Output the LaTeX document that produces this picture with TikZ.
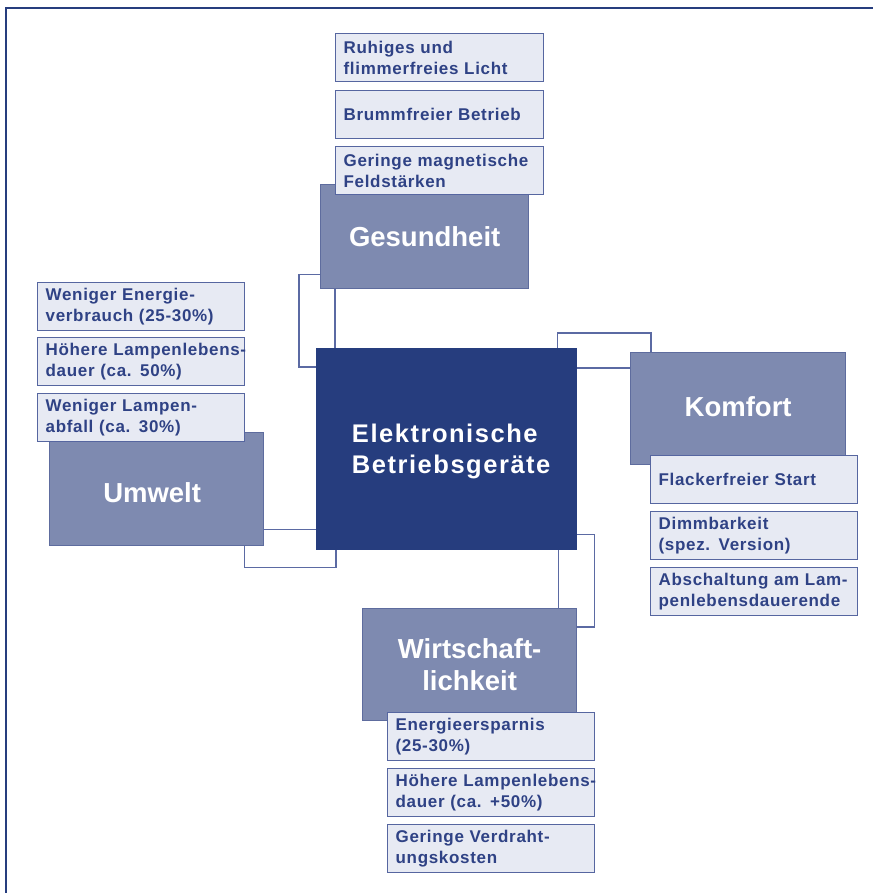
\documentclass[tikz,border=0pt]{standalone}
\usepackage{fontspec}
\setmainfont{Liberation Sans}
\newfontfamily\subfont{Liberation Sans}[LetterSpace=4]
\newfontfamily\centfont{Liberation Sans}[LetterSpace=6]
\definecolor{dark}{HTML}{263D7E}
\definecolor{mid}{HTML}{7E8AB0}
\definecolor{midline}{HTML}{5E6C9E}
\definecolor{light}{HTML}{E7EAF3}
\definecolor{lightline}{HTML}{5666A0}
\definecolor{subtext}{HTML}{2F4285}
\definecolor{conncol}{HTML}{5B6AA3}
\newcommand\Li[1]{\mbox{#1}}
\newcommand\Shift[3]{\hspace*{#1}\raisebox{#2}[\height][\depth]{#3}}
\tikzset{
  lb/.style={draw=lightline, fill=light, line width=1.3pt, anchor=north west,
    text width=191pt, inner xsep=8pt, inner ysep=0pt, minimum height=48pt, align=left,
    text=subtext, font=\subfont\bfseries\fontsize{17}{21}\selectfont},
  mb/.style={draw=midline, fill=mid, line width=1.3pt, anchor=north west,
    text=white, align=center, inner sep=0pt, font=\bfseries\fontsize{27.5}{32}\selectfont},
  cb/.style={fill=dark, anchor=north west, text=white, align=left, inner sep=0pt,
    minimum width=261pt, minimum height=202pt, font=\centfont\bfseries\fontsize{25.5}{31}\selectfont},
  conn/.style={draw=conncol, line width=1.4pt},
  frame/.style={draw=dark, line width=2pt}
}
\begin{document}
\begin{tikzpicture}[x=1pt,y=-1pt]
\useasboundingbox (0,0) rectangle (873,893);
\coordinate (fb) at (6,893);
\coordinate (fc) at (6,8);
\coordinate (fr) at (873,8);
\draw[frame] (fb) -- (fc) -- (fr);

% central and category boxes
\node[cb] (cen) at (316,348) {\Shift{9pt}{-3pt}{\begin{tabular}{@{}l@{}}Elektronische\\Betriebsgeräte\end{tabular}}};
\node[mb, minimum width=208pt, minimum height=104pt] (ges) at (320,184) {Gesundheit};
\node[mb, minimum width=215pt, minimum height=112pt] (kom) at (630,352) {\Shift{0pt}{2pt}{Komfort}};
\node[mb, minimum width=214pt, minimum height=113pt] (umw) at (49,432) {\Shift{0pt}{-4pt}{Umwelt}\hspace*{9pt}};
\node[mb, minimum width=214pt, minimum height=112pt] (wir) at (362,608) {Wirtschaft-\\lichkeit};

% connectors
\draw[conn] ([xshift=15pt]ges.south west) -- ([xshift=19pt]cen.north west);
\draw[conn] ([yshift=-38pt]ges.west) -- ++(-21,0) |- ([yshift=-19pt]cen.north west);
\draw[conn] ([xshift=-20pt]cen.north east) -- ++(0,-15) -| ([xshift=21pt]kom.north west);
\draw[conn] ([yshift=-20pt]cen.north east) -- ([yshift=-20pt]cen.north east -| kom.west);
\draw[conn] ([yshift=17pt]umw.south east) -- ([yshift=17pt]umw.south east -| cen.west);
\draw[conn] ([xshift=-20pt]umw.south east) -- ++(0,21) -| ([xshift=20pt]cen.south west);
\draw[conn] ([xshift=-19pt]cen.south east) -- ([xshift=-19pt]cen.south east |- wir.north);
\draw[conn] ([yshift=16pt]cen.south east) -- ++(17,0) |- ([yshift=-19pt]wir.north east);

% Gesundheit items
\node[lb, text width=192pt] (g1) at (335,33) {\Li{Ruhiges und}\\\Li{flimmerfreies Licht}};
\node[lb, text width=192pt] (g2) at (335,90) {\Li{Brummfreier Betrieb}};
\node[lb, text width=192pt] (g3) at (335,146) {\Li{Geringe magnetische}\\\Li{Feldstärken}};

% Umwelt items
\node[lb] (u1) at (37,282) {\Li{Weniger Energie-}\\\Li{verbrauch (25-30\%)}};
\node[lb] (u2) at (37,337) {\Li{Höhere Lampenlebens-}\\\Li{dauer (ca. 50\%)}};
\node[lb] (u3) at (37,393) {\Li{Weniger Lampen-}\\\Li{abfall (ca. 30\%)}};

% Komfort items
\node[lb] (k1) at (650,455) {\Li{Flackerfreier Start}};
\node[lb] (k2) at (650,511) {\Li{Dimmbarkeit}\\\Li{(spez. Version)}};
\node[lb] (k3) at (650,567) {\Li{Abschaltung am Lam-}\\\Li{penlebensdauerende}};

% Wirtschaftlichkeit items
\node[lb] (w1) at (387,712) {\Li{Energieersparnis}\\\Li{(25-30\%)}};
\node[lb] (w2) at (387,768) {\Li{Höhere Lampenlebens-}\\\Li{dauer (ca. +50\%)}};
\node[lb] (w3) at (387,824) {\Li{Geringe Verdraht-}\\\Li{ungskosten}};
\end{tikzpicture}
\end{document}
